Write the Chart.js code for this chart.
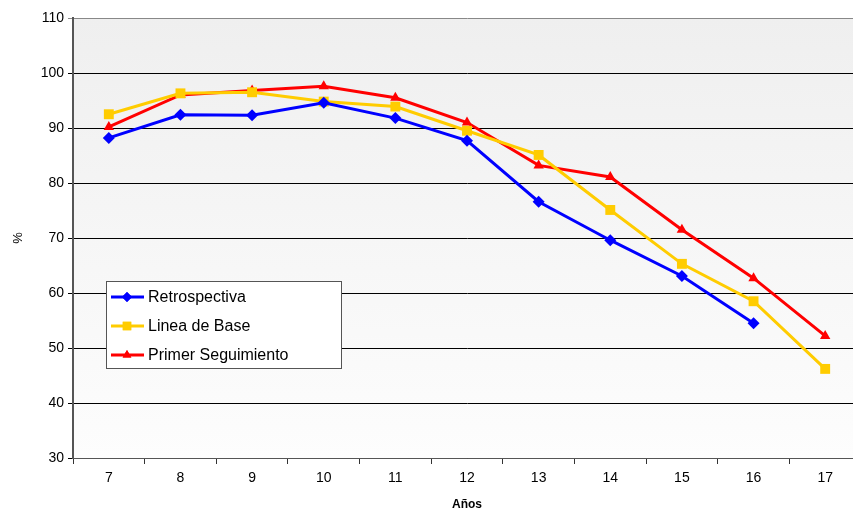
<!DOCTYPE html>
<html>
<head>
<meta charset="utf-8">
<script src="https://cdn.jsdelivr.net/npm/chart.js@4"></script>
<style>
  html, body { margin: 0; padding: 0; background: #fff; }
  /* the original plot runs past the right edge, so the canvas is wider and clipped */
  #wrap { width: 853px; height: 520px; overflow: hidden; }
  #chart { display: block; }
</style>
</head>
<body>
<div id="wrap"><canvas id="chart" width="861" height="520"></canvas></div>
<script>

/* ------------------------------------------------ */

const YEARS = ['7', '8', '9', '10', '11', '12', '13', '14', '15', '16', '17'];
const RETRO = [88.2, 92.4, 92.3, 94.6, 91.8, 87.7, 76.6, 69.6, 63.1, 54.5, null];
const BASE = [92.5, 96.3, 96.5, 94.8, 93.9, 89.5, 85.1, 75.1, 65.3, 58.5, 46.2];
const PRIMER = [90.2, 96.0, 96.8, 97.6, 95.5, 91.0, 83.2, 81.1, 71.5, 62.7, 52.2];
const Y_TICKS = [30, 40, 50, 60, 70, 80, 90, 100, 110];

const FONT = 'Liberation Sans, Arial, sans-serif';

/* ------------------------------------------------ */

// gray gradient behind the plot area
const plotBg = {
  id: 'plotBg',
  beforeDraw(chart) {
    let a = chart.chartArea;
    let ctx = chart.ctx;
    let g = ctx.createLinearGradient(0, a.top, 0, a.bottom);
    g.addColorStop(0, '#efefef');
    g.addColorStop(1, '#fdfdfd');
    ctx.save();
    ctx.fillStyle = g;
    ctx.fillRect(a.left, a.top, a.right - a.left, a.bottom - a.top);
    ctx.restore();
  }
};

// legend box sitting inside the plot
const boxLegend = {
  id: 'boxLegend',
  afterDraw(chart) {
    let ctx = chart.ctx;
    let x = 106, y = 281, w = 235, h = 87;
    ctx.save();
    ctx.fillStyle = '#ffffff';
    ctx.fillRect(x, y, w, h);
    ctx.strokeStyle = '#555555';
    ctx.lineWidth = 1;
    ctx.strokeRect(x + 0.5, y + 0.5, w, h);
    chart.data.datasets.forEach((ds, i) => {
      let cy = y + 16 + i * 29;
      ctx.strokeStyle = ds.borderColor;
      ctx.lineWidth = 3;
      ctx.beginPath();
      ctx.moveTo(x + 5, cy);
      ctx.lineTo(x + 38, cy);
      ctx.stroke();
      ctx.fillStyle = ds.borderColor;
      Chart.helpers.drawPoint(ctx, {
        pointStyle: ds.pointStyle,
        radius: ds.pointRadius - 1,
        rotation: 0,
        borderWidth: 0,
      }, x + 21, cy);
      ctx.fill();
      ctx.fillStyle = '#000000';
      ctx.font = '16px ' + FONT;
      ctx.textBaseline = 'middle';
      ctx.textAlign = 'left';
      ctx.fillText(ds.label, x + 42, cy + 1);
    });
    ctx.restore();
  }
};

/* ------------------------------------------------ */

function makeSet(label, data, color, style, radius) {
  return {
    label: label,
    data: data,
    borderColor: color,
    backgroundColor: color,
    pointBackgroundColor: color,
    pointBorderColor: color,
    pointBorderWidth: 0,
    pointStyle: style,
    pointRadius: radius,
    borderWidth: 3,
    tension: 0,
    spanGaps: false,
  };
}

function generateChart() {
  let ctx = document.getElementById('chart').getContext('2d');
  return new Chart(ctx, {
    type: 'line',
    data: {
      labels: YEARS,
      datasets: [
        makeSet('Retrospectiva', RETRO, '#0000ff', 'rectRot', 6),
        makeSet('Linea de Base', BASE, '#ffcc00', 'rect', 7),
        makeSet('Primer Seguimiento', PRIMER, '#ff0000', 'triangle', 6),
      ],
    },
    options: {
      responsive: false,
      animation: false,
      layout: { autoPadding: false, padding: { top: 18, right: 0, left: 0, bottom: 0 } },
      plugins: {
        legend: { display: false },
        tooltip: { enabled: false },
      },
      scales: {
        x: {
          offset: true,
          grid: {
            offset: true,
            drawOnChartArea: false,
            color: '#333333',
            tickLength: 6,
          },
          border: { color: '#555555', width: 1 },
          ticks: {
            color: '#000',
            font: { family: FONT, size: 14 },
            padding: 6,
            maxRotation: 0,
          },
          title: {
            display: true,
            text: 'Años',
            color: '#000',
            font: { family: FONT, size: 12, weight: 'bold' },
            padding: { top: 4, bottom: 8 },
          },
          afterFit(scale) {
            scale.height = 62;
            scale.paddingLeft = 0;
            scale.paddingRight = 0;
          },
        },
        y: {
          min: 30,
          max: 110,
          afterBuildTicks(scale) { scale.ticks = Y_TICKS.map((v) => ({ value: v })); },
          grid: {
            color: (c) => (c.tick && c.tick.value == 110) ? '#888888' : '#000000',
            tickLength: 5,
            lineWidth: 1,
          },
          border: { color: '#555555', width: 2 },
          ticks: {
            color: '#000',
            font: { family: FONT, size: 14 },
            padding: 4,
          },
          title: {
            display: true,
            text: '%',
            color: '#000',
            font: { family: FONT, size: 13 },
            padding: { top: 11, bottom: 0 },
          },
          afterFit(scale) { scale.width = 73; },
        },
      },
    },
    plugins: [plotBg, boxLegend],
  });
}

let chart = generateChart();
</script>
</body>
</html>
